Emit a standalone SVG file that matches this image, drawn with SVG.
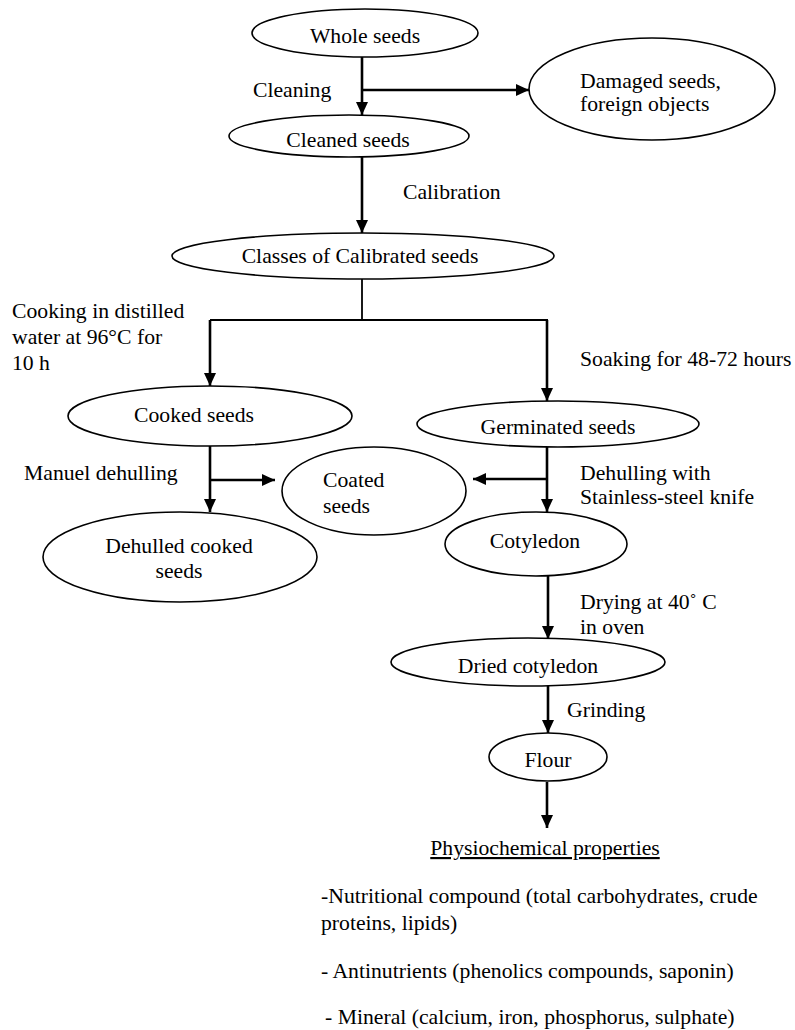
<svg xmlns="http://www.w3.org/2000/svg" width="795" height="1030" viewBox="0 0 795 1030">
<style>
text{font-family:"Liberation Serif","Times New Roman",serif;font-size:21.7px;fill:#000}
.c{text-anchor:middle}
ellipse{fill:#fff;stroke:#000;stroke-width:1.6}
.a{stroke:#000;stroke-width:2.6;fill:none}
.l{stroke:#000;stroke-width:1.8;fill:none}
</style>
<defs>
<marker id="ah" markerUnits="userSpaceOnUse" markerWidth="14" markerHeight="12" refX="13" refY="6" orient="auto">
<path d="M0,0 L13,6 L0,12 Z" fill="#000"/>
</marker>
</defs>
<rect width="795" height="1030" fill="#fff"/>
<g id="connectors">
<line class="a" x1="362" y1="57" x2="362" y2="115" marker-end="url(#ah)"/>
<line class="a" x1="362" y1="90" x2="529" y2="90" marker-end="url(#ah)"/>
<line class="a" x1="362" y1="157" x2="362" y2="233" marker-end="url(#ah)"/>
<line class="l" x1="362" y1="279" x2="362" y2="320"/>
<line class="l" x1="210" y1="320" x2="548" y2="320"/>
<line class="a" x1="210" y1="320" x2="210" y2="386" marker-end="url(#ah)"/>
<line class="a" x1="547" y1="320" x2="547" y2="401" marker-end="url(#ah)"/>
<line class="a" x1="210" y1="446" x2="210" y2="512" marker-end="url(#ah)"/>
<line class="a" x1="210" y1="480" x2="275" y2="480" marker-end="url(#ah)"/>
<line class="a" x1="547" y1="447" x2="547" y2="512" marker-end="url(#ah)"/>
<line class="a" x1="547" y1="479" x2="473" y2="479" marker-end="url(#ah)"/>
<line class="a" x1="548" y1="576" x2="548" y2="639" marker-end="url(#ah)"/>
<line class="a" x1="548" y1="686" x2="548" y2="733" marker-end="url(#ah)"/>
<line class="a" x1="547" y1="782" x2="547" y2="828" marker-end="url(#ah)"/>
</g>
<g id="labels">
<text x="253" y="97">Cleaning</text>
<text x="403" y="199">Calibration</text>
<text x="12" y="318">Cooking in distilled</text>
<text x="12" y="344">water at 96°C for</text>
<text x="12" y="370">10 h</text>
<text x="580" y="366">Soaking for 48-72 hours</text>
<text x="24" y="480">Manuel dehulling</text>
<text x="580" y="480">Dehulling with</text>
<text x="580" y="504">Stainless-steel knife</text>
<text x="580" y="609">Drying at 40˚ C</text>
<text x="580" y="634">in oven</text>
<text x="567" y="717">Grinding</text>
</g>
<g id="whole"><ellipse cx="365" cy="33" rx="113" ry="24"/><text class="c" x="365" y="43">Whole seeds</text></g>
<g id="damaged"><ellipse cx="652" cy="89" rx="123" ry="51"/><text x="580" y="88">Damaged seeds,</text><text x="580" y="111">foreign objects</text></g>
<g id="cleaned"><ellipse cx="349" cy="136" rx="120" ry="21"/><text class="c" x="348" y="147">Cleaned seeds</text></g>
<g id="classes"><ellipse cx="363" cy="256" rx="191" ry="23"/><text class="c" x="360" y="263">Classes of Calibrated seeds</text></g>
<g id="cooked"><ellipse cx="210" cy="416" rx="142" ry="30"/><text class="c" x="194" y="422">Cooked seeds</text></g>
<g id="germinated"><ellipse cx="558" cy="424" rx="141" ry="23"/><text class="c" x="558" y="434">Germinated seeds</text></g>
<g id="coated"><ellipse cx="374" cy="491" rx="92" ry="44"/><text x="323" y="487">Coated</text><text x="323" y="513">seeds</text></g>
<g id="dehulled"><ellipse cx="180" cy="557" rx="137" ry="45"/><text class="c" x="179" y="553">Dehulled cooked</text><text class="c" x="179" y="578">seeds</text></g>
<g id="cotyledon"><ellipse cx="536" cy="544" rx="91" ry="32"/><text class="c" x="535" y="548">Cotyledon</text></g>
<g id="dried"><ellipse cx="528" cy="662" rx="137" ry="24"/><text class="c" x="528" y="673">Dried cotyledon</text></g>
<g id="flour"><ellipse cx="548" cy="757" rx="59" ry="24"/><text class="c" x="548" y="767">Flour</text></g>
<g id="properties">
<text class="c" x="545" y="855" text-decoration="underline">Physiochemical properties</text>
<text x="321" y="903">-Nutritional compound (total carbohydrates, crude</text>
<text x="321" y="930">proteins, lipids)</text>
<text x="321" y="978">- Antinutrients (phenolics compounds, saponin)</text>
<text x="325" y="1024">- Mineral (calcium, iron, phosphorus, sulphate)</text>
</g>
</svg>
